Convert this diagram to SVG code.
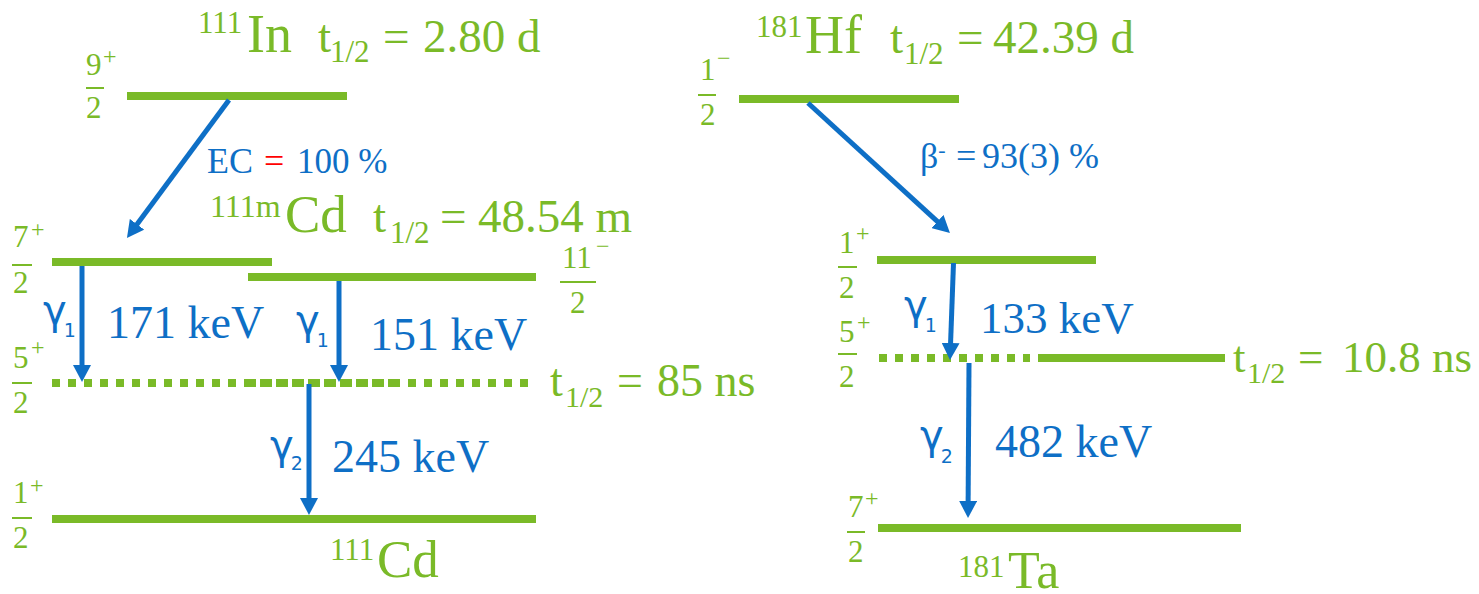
<svg xmlns="http://www.w3.org/2000/svg" width="1479" height="594" viewBox="0 0 1479 594">
<style>
.g{fill:#7ABA28}
.b{fill:#0E6FC6}
.r{fill:#FF0000}
.sf{font-family:"Liberation Serif","Tinos","Times New Roman","Times","Nimbus Roman","Nimbus Roman No9 L","Noto Serif","DejaVu Serif","FreeSerif",serif}
.lvl{stroke:#7ABA28;stroke-width:8;fill:none}
.dot{stroke:#7ABA28;stroke-width:8;fill:none;stroke-dasharray:8 8}
.bar{stroke:#7ABA28;stroke-width:2}
.arr{stroke:#0E6FC6;stroke-width:5;fill:none;marker-end:url(#ah)}
.fn{font-size:31px}
.fs{font-size:24px}
.big{font-size:54px}
.sup{font-size:31px}
.t{font-size:47px}
.kev{font-size:46px}
.gam{font-size:40px;font-family:"DejaVu Sans","Noto Sans",sans-serif}
</style>
<defs>
<marker id="ah" markerUnits="userSpaceOnUse" markerWidth="18" markerHeight="18" viewBox="0 0 18 18" refX="5" refY="9" orient="auto">
<path d="M0,0 L17,9 L0,18 z" fill="#0E6FC6"/>
</marker>
</defs>

<!-- Left: 111In -->
<g id="in111">
<line class="lvl" x1="127" y1="96" x2="347" y2="96"/>
<g class="g sf">
<text class="sup" x="198" y="33">111</text>
<text class="big" x="247" y="52">In</text>
<text class="t" x="318" y="52">t</text>
<text x="330" y="62" font-size="31">1/2</text>
<text class="t" x="383" y="52">=</text>
<text class="t" x="423" y="52">2.80 d</text>
<text class="fn" x="86" y="75">9</text>
<text class="fs" x="103" y="64">+</text>
<text class="fn" x="86" y="118">2</text>
</g>
<line class="bar" x1="86" y1="88" x2="104" y2="88"/>
</g>

<g id="cd111m">
<line class="lvl" x1="52" y1="262" x2="272" y2="262"/>
<g class="g sf">
<text font-size="32" x="210" y="217">111m</text>
<text font-size="53" x="285" y="232">Cd</text>
<text class="t" x="373" y="232">t</text>
<text x="390" y="243" font-size="31">1/2</text>
<text class="t" x="440" y="232">=</text>
<text class="t" x="478" y="232">48.54 m</text>
<text class="fn" x="13" y="247">7</text>
<text class="fs" x="31" y="237">+</text>
<text class="fn" x="13" y="293">2</text>
</g>
<line class="bar" x1="12" y1="265" x2="32" y2="265"/>
</g>

<g id="cd111-11half">
<line class="lvl" x1="248" y1="277" x2="536" y2="277"/>
<g class="g sf">
<text class="fn" x="562" y="268">11</text>
<text class="fs" x="596" y="254">−</text>
<text class="fn" x="570" y="313">2</text>
</g>
<line class="bar" x1="560" y1="282" x2="596" y2="282"/>
</g>

<g id="cd111-5half">
<line class="dot" x1="52" y1="383" x2="398" y2="383"/>
<line class="dot" x1="248" y1="383" x2="528" y2="383"/>
<g class="g sf">
<text font-size="46" x="550" y="396">t</text>
<text x="565" y="407" font-size="30">1/2</text>
<text font-size="46" x="617" y="396">=</text>
<text font-size="46" x="657" y="396">85 ns</text>
<text class="fn" x="13" y="368">5</text>
<text class="fs" x="31" y="355">+</text>
<text class="fn" x="13" y="413">2</text>
</g>
<line class="bar" x1="12" y1="383" x2="32" y2="383"/>
</g>

<g id="cd111">
<line class="lvl" x1="52" y1="519" x2="536" y2="519"/>
<g class="g sf">
<text class="sup" x="330" y="560">111</text>
<text font-size="53" x="377" y="577">Cd</text>
<text class="fn" x="13" y="503">1</text>
<text class="fs" x="30" y="493">+</text>
<text class="fn" x="13" y="548">2</text>
</g>
<line class="bar" x1="12" y1="518" x2="32" y2="518"/>
</g>

<!-- Right: 181Hf -->
<g id="hf181">
<line class="lvl" x1="739" y1="99" x2="959" y2="99"/>
<g class="g sf">
<text class="sup" x="756" y="37">181</text>
<text class="big" x="805" y="53">Hf</text>
<text class="t" x="890" y="53">t</text>
<text x="904" y="64" font-size="31">1/2</text>
<text class="t" x="957" y="53">=</text>
<text class="t" x="993" y="53">42.39 d</text>
<text class="fn" x="700" y="80">1</text>
<text class="fs" x="717" y="66">−</text>
<text class="fn" x="700" y="125">2</text>
</g>
<line class="bar" x1="698" y1="95" x2="716" y2="95"/>
</g>

<g id="ta181-1half">
<line class="lvl" x1="877" y1="260" x2="1096" y2="260"/>
<g class="g sf">
<text class="fn" x="839" y="253">1</text>
<text class="fs" x="856" y="241">+</text>
<text class="fn" x="839" y="298">2</text>
</g>
<line class="bar" x1="838" y1="267" x2="857" y2="267"/>
</g>

<g id="ta181-5half">
<line class="dot" x1="879" y1="358" x2="1030" y2="358"/>
<line class="lvl" x1="1038" y1="358" x2="1225" y2="358"/>
<g class="g sf">
<text font-size="45" x="1233" y="372">t</text>
<text x="1247" y="383" font-size="30">1/2</text>
<text font-size="45" x="1298" y="372">=</text>
<text font-size="45" x="1342" y="372">10.8 ns</text>
<text class="fn" x="839" y="342">5</text>
<text class="fs" x="857" y="330">+</text>
<text class="fn" x="839" y="387">2</text>
</g>
<line class="bar" x1="838" y1="354" x2="857" y2="354"/>
</g>

<g id="ta181">
<line class="lvl" x1="878" y1="528" x2="1241" y2="528"/>
<g class="g sf">
<text class="sup" x="958" y="577">181</text>
<text font-size="52" x="1008" y="588">Ta</text>
<text class="fn" x="848" y="517">7</text>
<text class="fs" x="865" y="506">+</text>
<text class="fn" x="848" y="562">2</text>
</g>
<line class="bar" x1="847" y1="532" x2="865" y2="532"/>
</g>

<!-- Connectors -->
<g id="connectors">
<line class="arr" x1="229" y1="100" x2="134.1" y2="228.3"/>
<line class="arr" x1="808" y1="103" x2="941.1" y2="224.9"/>
<line class="arr" x1="82" y1="266" x2="82" y2="370"/>
<line class="arr" x1="339" y1="281" x2="339" y2="370"/>
<line class="arr" x1="309" y1="384" x2="309" y2="503"/>
<line class="arr" x1="953.5" y1="263" x2="950.4" y2="348"/>
<line class="arr" x1="969" y1="363" x2="968.1" y2="506"/>
</g>

<g id="labels">
<g class="sf">
<text class="b" font-size="36" x="207" y="173">EC</text>
<text class="r" font-size="36" x="264" y="173">=</text>
<text class="b" font-size="35" x="297" y="173">100 %</text>
<text class="b" font-size="36" x="920" y="168">β<tspan font-size="22" dy="-11">-</tspan></text>
<text class="b" font-size="36" x="956" y="168">=</text>
<text class="b" font-size="36" x="982" y="168">93(3) %</text>
<text class="b kev" x="107" y="338">171 keV</text>
<text class="b kev" x="370" y="350">151 keV</text>
<text class="b kev" x="332" y="472">245 keV</text>
<text class="b" font-size="45" x="980" y="333">133 keV</text>
<text class="b kev" x="995" y="457">482 keV</text>
</g>
<g class="b">
<text class="gam" x="43" y="324">γ<tspan font-size="19" dx="-3" dy="13">1</tspan></text>
<text class="gam" x="296" y="334">γ<tspan font-size="19" dx="-3" dy="13">1</tspan></text>
<text class="gam" x="270" y="459">γ<tspan font-size="19" dx="-3" dy="11">2</tspan></text>
<text class="gam" x="904" y="319">γ<tspan font-size="19" dx="-3" dy="13">1</tspan></text>
<text class="gam" x="920" y="449">γ<tspan font-size="19" dx="-3" dy="14">2</tspan></text>
</g>
</g>
</svg>
